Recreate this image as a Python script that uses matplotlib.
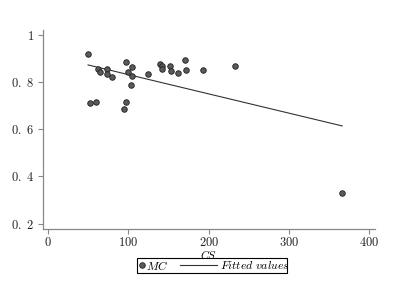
import matplotlib
matplotlib.use('Agg')
import matplotlib.pyplot as plt
from matplotlib.lines import Line2D
from matplotlib.patches import Rectangle

plt.rcParams['mathtext.fontset'] = 'cm'
plt.rcParams['font.family'] = ['cmr10', 'DejaVu Serif']

# scatter: CS vs MC
cs = [50, 52, 60, 62, 65, 73, 73, 80, 97, 97, 95, 100, 105, 105, 103,
      124, 140, 142, 142, 152, 153, 162, 171, 172, 193, 233, 366]
mc = [0.918, 0.713, 0.716, 0.855, 0.840, 0.856, 0.833, 0.819, 0.886, 0.715, 0.684,
      0.843, 0.864, 0.825, 0.787, 0.835, 0.876, 0.867, 0.853, 0.866, 0.845, 0.839,
      0.893, 0.850, 0.852, 0.867, 0.330]

# fitted line end points
fit_x = [50, 366]
fit_y = [0.872, 0.614]

xticks = [0, 100, 200, 300, 400]
xlabels = [r'$0$', r'$100$', r'$200$', r'$300$', r'$400$']
yticks = [0.2, 0.4, 0.6, 0.8, 1.0]
ylabels = [r'$0.\ 2$', r'$0.\ 4$', r'$0.\ 6$', r'$0.\ 8$', r'$1$']

W, H = 394, 288
fig = plt.figure(figsize=(W / 100, H / 100), dpi=100)
ax = fig.add_axes([0.108, 0.205, 0.844, 0.691])

mk_face, mk_edge = '#5a5a5a', '#1e1e1e'
ax.plot(fit_x, fit_y, color='#333333', lw=0.8)
ax.scatter(cs, mc, s=16, facecolor=mk_face, edgecolor=mk_edge, linewidths=0.6, zorder=3)

ax.set_xlim(-6.6, 407)
ax.set_ylim(0.178, 1.02)
ax.set_xticks(xticks)
ax.set_xticklabels(xlabels)
ax.set_yticks(yticks)
ax.set_yticklabels(ylabels)
ax.spines['top'].set_visible(False)
ax.spines['right'].set_visible(False)
for s in ['left', 'bottom']:
    ax.spines[s].set_color('#888888')
    ax.spines[s].set_linewidth(0.9)
ax.tick_params(colors='#888888', length=3.5, width=0.8, labelsize=9, labelcolor='#222222', pad=2.5)
ax.tick_params(axis='x', pad=1.5)

ax.set_xlabel(r'$CS$', fontsize=8, va='top')
ax.xaxis.set_label_coords(0.5, -0.097)

# legend box drawn by hand (Stata style)
def fx(px):
    return px / W

def fy(py):
    return 1 - py / H

fig.add_artist(Rectangle((fx(137.3), fy(272.5)), fx(287.3) - fx(137.3), fy(257.7) - fy(272.5),
                         transform=fig.transFigure, fill=False, edgecolor='black', lw=0.8))
fig.add_artist(Line2D([fx(141.5)], [fy(265)], transform=fig.transFigure, ls='none', marker='o',
                      markersize=4, markerfacecolor=mk_face, markeredgecolor=mk_edge,
                      markeredgewidth=0.6))
fig.text(fx(146.5), fy(265), r'$MC$', fontsize=8.5, va='center', ha='left')
fig.add_artist(Line2D([fx(180), fx(217)], [fy(265), fy(265)], transform=fig.transFigure,
                      color='#333333', lw=0.8))
fig.text(fx(219.5), fy(265), r'$\mathit{Fitted\ values}$', fontsize=8.5, va='center', ha='left')

fig.savefig('out.png', dpi=100)
